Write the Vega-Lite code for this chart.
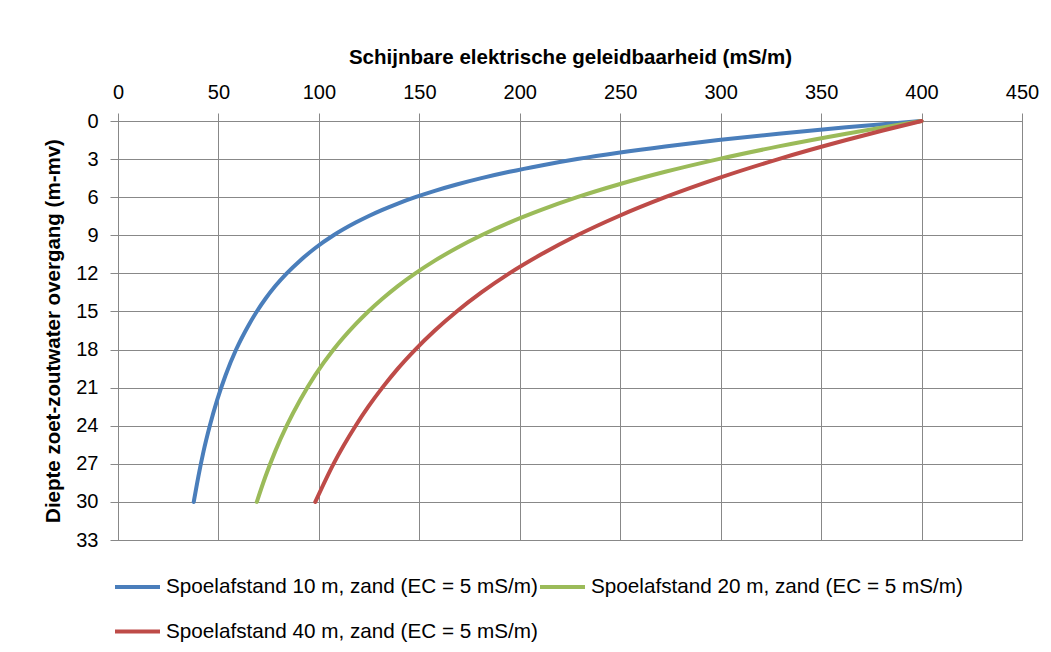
{
  "$schema": "https://vega.github.io/schema/vega-lite/v6.json",
  "width": 904,
  "height": 419,
  "autosize": {"type": "none"},
  "padding": {"left": 118, "top": 121, "right": 29, "bottom": 112},
  "background": "white",
  "config": {
    "font": "Liberation Sans",
    "view": {"stroke": "#888888", "strokeWidth": 1}
  },
  "datasets": {
    "curves": [
      {"serie": "Spoelafstand 10 m, zand (EC = 5 mS/m)", "diepte": 0, "ec": 400},
      {"serie": "Spoelafstand 10 m, zand (EC = 5 mS/m)", "diepte": 0.25, "ec": 380.7},
      {"serie": "Spoelafstand 10 m, zand (EC = 5 mS/m)", "diepte": 0.5, "ec": 362.5},
      {"serie": "Spoelafstand 10 m, zand (EC = 5 mS/m)", "diepte": 1, "ec": 328.8},
      {"serie": "Spoelafstand 10 m, zand (EC = 5 mS/m)", "diepte": 1.5, "ec": 298.9},
      {"serie": "Spoelafstand 10 m, zand (EC = 5 mS/m)", "diepte": 2, "ec": 272.4},
      {"serie": "Spoelafstand 10 m, zand (EC = 5 mS/m)", "diepte": 2.5, "ec": 249.1},
      {"serie": "Spoelafstand 10 m, zand (EC = 5 mS/m)", "diepte": 3, "ec": 228.6},
      {"serie": "Spoelafstand 10 m, zand (EC = 5 mS/m)", "diepte": 3.5, "ec": 210.7},
      {"serie": "Spoelafstand 10 m, zand (EC = 5 mS/m)", "diepte": 4, "ec": 194.8},
      {"serie": "Spoelafstand 10 m, zand (EC = 5 mS/m)", "diepte": 4.5, "ec": 180.9},
      {"serie": "Spoelafstand 10 m, zand (EC = 5 mS/m)", "diepte": 5, "ec": 168.6},
      {"serie": "Spoelafstand 10 m, zand (EC = 5 mS/m)", "diepte": 5.5, "ec": 157.7},
      {"serie": "Spoelafstand 10 m, zand (EC = 5 mS/m)", "diepte": 6, "ec": 148.0},
      {"serie": "Spoelafstand 10 m, zand (EC = 5 mS/m)", "diepte": 6.5, "ec": 139.3},
      {"serie": "Spoelafstand 10 m, zand (EC = 5 mS/m)", "diepte": 7, "ec": 131.6},
      {"serie": "Spoelafstand 10 m, zand (EC = 5 mS/m)", "diepte": 7.5, "ec": 124.6},
      {"serie": "Spoelafstand 10 m, zand (EC = 5 mS/m)", "diepte": 8, "ec": 118.3},
      {"serie": "Spoelafstand 10 m, zand (EC = 5 mS/m)", "diepte": 9, "ec": 107.3},
      {"serie": "Spoelafstand 10 m, zand (EC = 5 mS/m)", "diepte": 10, "ec": 98.2},
      {"serie": "Spoelafstand 10 m, zand (EC = 5 mS/m)", "diepte": 11, "ec": 90.6},
      {"serie": "Spoelafstand 10 m, zand (EC = 5 mS/m)", "diepte": 12, "ec": 84.0},
      {"serie": "Spoelafstand 10 m, zand (EC = 5 mS/m)", "diepte": 13, "ec": 78.3},
      {"serie": "Spoelafstand 10 m, zand (EC = 5 mS/m)", "diepte": 14, "ec": 73.4},
      {"serie": "Spoelafstand 10 m, zand (EC = 5 mS/m)", "diepte": 15, "ec": 69.1},
      {"serie": "Spoelafstand 10 m, zand (EC = 5 mS/m)", "diepte": 16, "ec": 65.3},
      {"serie": "Spoelafstand 10 m, zand (EC = 5 mS/m)", "diepte": 18, "ec": 58.8},
      {"serie": "Spoelafstand 10 m, zand (EC = 5 mS/m)", "diepte": 20, "ec": 53.6},
      {"serie": "Spoelafstand 10 m, zand (EC = 5 mS/m)", "diepte": 22, "ec": 49.3},
      {"serie": "Spoelafstand 10 m, zand (EC = 5 mS/m)", "diepte": 24, "ec": 45.7},
      {"serie": "Spoelafstand 10 m, zand (EC = 5 mS/m)", "diepte": 26, "ec": 42.6},
      {"serie": "Spoelafstand 10 m, zand (EC = 5 mS/m)", "diepte": 28, "ec": 40.0},
      {"serie": "Spoelafstand 10 m, zand (EC = 5 mS/m)", "diepte": 30, "ec": 37.7},
      {"serie": "Spoelafstand 20 m, zand (EC = 5 mS/m)", "diepte": 0, "ec": 400},
      {"serie": "Spoelafstand 20 m, zand (EC = 5 mS/m)", "diepte": 0.5, "ec": 380.7},
      {"serie": "Spoelafstand 20 m, zand (EC = 5 mS/m)", "diepte": 1, "ec": 362.5},
      {"serie": "Spoelafstand 20 m, zand (EC = 5 mS/m)", "diepte": 2, "ec": 328.8},
      {"serie": "Spoelafstand 20 m, zand (EC = 5 mS/m)", "diepte": 3, "ec": 298.9},
      {"serie": "Spoelafstand 20 m, zand (EC = 5 mS/m)", "diepte": 4, "ec": 272.4},
      {"serie": "Spoelafstand 20 m, zand (EC = 5 mS/m)", "diepte": 5, "ec": 249.1},
      {"serie": "Spoelafstand 20 m, zand (EC = 5 mS/m)", "diepte": 6, "ec": 228.6},
      {"serie": "Spoelafstand 20 m, zand (EC = 5 mS/m)", "diepte": 7, "ec": 210.7},
      {"serie": "Spoelafstand 20 m, zand (EC = 5 mS/m)", "diepte": 8, "ec": 194.8},
      {"serie": "Spoelafstand 20 m, zand (EC = 5 mS/m)", "diepte": 9, "ec": 180.9},
      {"serie": "Spoelafstand 20 m, zand (EC = 5 mS/m)", "diepte": 10, "ec": 168.6},
      {"serie": "Spoelafstand 20 m, zand (EC = 5 mS/m)", "diepte": 11, "ec": 157.7},
      {"serie": "Spoelafstand 20 m, zand (EC = 5 mS/m)", "diepte": 12, "ec": 148.0},
      {"serie": "Spoelafstand 20 m, zand (EC = 5 mS/m)", "diepte": 13, "ec": 139.3},
      {"serie": "Spoelafstand 20 m, zand (EC = 5 mS/m)", "diepte": 14, "ec": 131.6},
      {"serie": "Spoelafstand 20 m, zand (EC = 5 mS/m)", "diepte": 15, "ec": 124.6},
      {"serie": "Spoelafstand 20 m, zand (EC = 5 mS/m)", "diepte": 16, "ec": 118.3},
      {"serie": "Spoelafstand 20 m, zand (EC = 5 mS/m)", "diepte": 18, "ec": 107.3},
      {"serie": "Spoelafstand 20 m, zand (EC = 5 mS/m)", "diepte": 20, "ec": 98.2},
      {"serie": "Spoelafstand 20 m, zand (EC = 5 mS/m)", "diepte": 22, "ec": 90.6},
      {"serie": "Spoelafstand 20 m, zand (EC = 5 mS/m)", "diepte": 24, "ec": 84.0},
      {"serie": "Spoelafstand 20 m, zand (EC = 5 mS/m)", "diepte": 26, "ec": 78.3},
      {"serie": "Spoelafstand 20 m, zand (EC = 5 mS/m)", "diepte": 28, "ec": 73.4},
      {"serie": "Spoelafstand 20 m, zand (EC = 5 mS/m)", "diepte": 30, "ec": 69.1},
      {"serie": "Spoelafstand 40 m, zand (EC = 5 mS/m)", "diepte": 0, "ec": 400},
      {"serie": "Spoelafstand 40 m, zand (EC = 5 mS/m)", "diepte": 0.75, "ec": 380.7},
      {"serie": "Spoelafstand 40 m, zand (EC = 5 mS/m)", "diepte": 1.5, "ec": 362.5},
      {"serie": "Spoelafstand 40 m, zand (EC = 5 mS/m)", "diepte": 3, "ec": 328.8},
      {"serie": "Spoelafstand 40 m, zand (EC = 5 mS/m)", "diepte": 4.5, "ec": 298.9},
      {"serie": "Spoelafstand 40 m, zand (EC = 5 mS/m)", "diepte": 6, "ec": 272.4},
      {"serie": "Spoelafstand 40 m, zand (EC = 5 mS/m)", "diepte": 7.5, "ec": 249.1},
      {"serie": "Spoelafstand 40 m, zand (EC = 5 mS/m)", "diepte": 9, "ec": 228.6},
      {"serie": "Spoelafstand 40 m, zand (EC = 5 mS/m)", "diepte": 10.5, "ec": 210.7},
      {"serie": "Spoelafstand 40 m, zand (EC = 5 mS/m)", "diepte": 12, "ec": 194.8},
      {"serie": "Spoelafstand 40 m, zand (EC = 5 mS/m)", "diepte": 13.5, "ec": 180.9},
      {"serie": "Spoelafstand 40 m, zand (EC = 5 mS/m)", "diepte": 15, "ec": 168.6},
      {"serie": "Spoelafstand 40 m, zand (EC = 5 mS/m)", "diepte": 16.5, "ec": 157.7},
      {"serie": "Spoelafstand 40 m, zand (EC = 5 mS/m)", "diepte": 18, "ec": 148.0},
      {"serie": "Spoelafstand 40 m, zand (EC = 5 mS/m)", "diepte": 19.5, "ec": 139.3},
      {"serie": "Spoelafstand 40 m, zand (EC = 5 mS/m)", "diepte": 21, "ec": 131.6},
      {"serie": "Spoelafstand 40 m, zand (EC = 5 mS/m)", "diepte": 22.5, "ec": 124.6},
      {"serie": "Spoelafstand 40 m, zand (EC = 5 mS/m)", "diepte": 24, "ec": 118.3},
      {"serie": "Spoelafstand 40 m, zand (EC = 5 mS/m)", "diepte": 27, "ec": 107.3},
      {"serie": "Spoelafstand 40 m, zand (EC = 5 mS/m)", "diepte": 30, "ec": 98.2}
    ]
  },
  "data": {"name": "curves"},
  "mark": {"type": "line", "strokeWidth": 4, "strokeCap": "round", "strokeJoin": "round", "interpolate": "monotone"},
  "encoding": {
    "x": {
      "field": "ec", "type": "quantitative",
      "scale": {"domain": [0, 450], "nice": false},
      "axis": {
        "orient": "top",
        "values": [0, 50, 100, 150, 200, 250, 300, 350, 400, 450],
        "title": "Schijnbare elektrische geleidbaarheid (mS/m)",
        "titleFontWeight": "bold", "titleFontSize": 20.5, "titleColor": "#000000",
        "titlePadding": 15,
        "labelFontSize": 20, "labelColor": "#000000", "labelPadding": 11,
        "labelFlush": false,
        "tickSize": 8, "tickColor": "#888888",
        "domainColor": "#888888",
        "gridColor": "#888888", "gridOpacity": 1
      }
    },
    "y": {
      "field": "diepte", "type": "quantitative",
      "scale": {"domain": [0, 33], "reverse": true, "nice": false},
      "axis": {
        "values": [0, 3, 6, 9, 12, 15, 18, 21, 24, 27, 30, 33],
        "title": "Diepte zoet-zoutwater overgang (m-mv)",
        "titleFontWeight": "bold", "titleFontSize": 20.5, "titleColor": "#000000",
        "titlePadding": 12,
        "labelFontSize": 20, "labelColor": "#000000", "labelPadding": 12,
        "labelFlush": false,
        "tickSize": 8, "tickColor": "#888888",
        "domainColor": "#888888",
        "gridColor": "#888888", "gridOpacity": 1
      }
    },
    "color": {
      "field": "serie", "type": "nominal",
      "scale": {
        "domain": ["Spoelafstand 10 m, zand (EC = 5 mS/m)", "Spoelafstand 20 m, zand (EC = 5 mS/m)", "Spoelafstand 40 m, zand (EC = 5 mS/m)"],
        "range": ["#4A7EBB", "#9BBB59", "#BE4B48"]
      },
      "legend": {
        "title": null,
        "orient": "none",
        "legendX": -5,
        "legendY": 441,
        "direction": "horizontal",
        "columns": 2,
        "columnPadding": -8,
        "rowPadding": 10,
        "symbolType": "stroke",
        "symbolSize": 2025,
        "symbolStrokeWidth": 4,
        "labelFontSize": 20.7,
        "labelColor": "#000000",
        "labelOffset": 4,
        "labelLimit": 500
      }
    }
  }
}
